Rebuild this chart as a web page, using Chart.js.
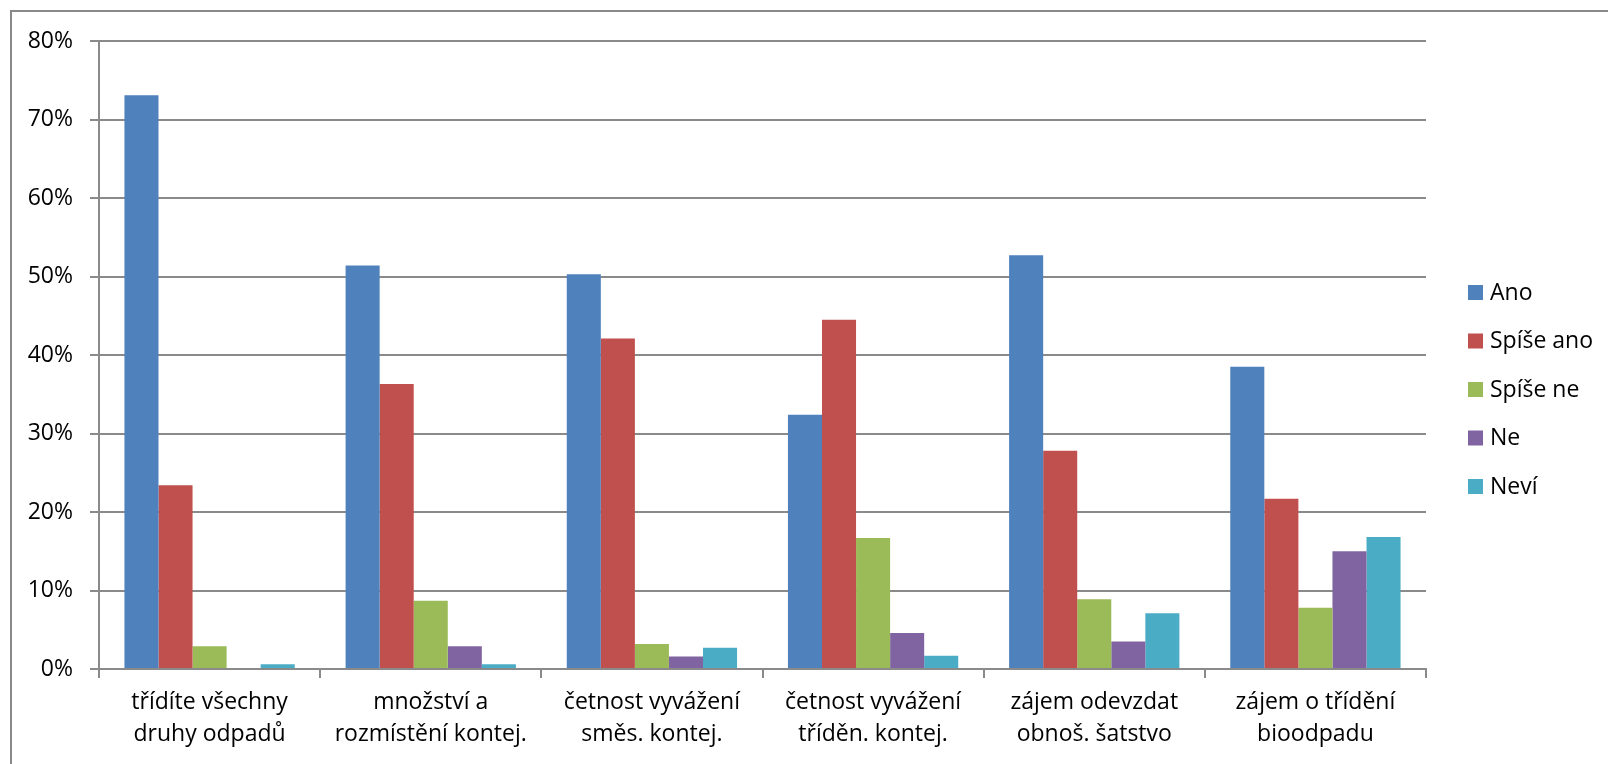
<!DOCTYPE html>
<html>
<head>
<meta charset="utf-8">
<script src="https://cdn.jsdelivr.net/npm/chart.js@4/dist/chart.umd.min.js"></script>
<style>
  html, body { margin: 0; padding: 0; background: #fff; overflow: hidden; }
  #wrap { position: relative; width: 1608px; height: 764px; }
  #frame { position: absolute; left: 10px; top: 10px; width: 1700px; height: 900px;
           border-left: 2px solid #898989; border-top: 2px solid #898989; }
  canvas { position: absolute; left: 0; top: 0; }
</style>
</head>
<body>
<div id="wrap">
  <div id="frame"></div>
  <canvas id="myChart" width="1608" height="764"></canvas>
</div>
<script>
const categories = [
    ["třídíte všechny", "druhy odpadů"],
    ["množství a", "rozmístění kontej."],
    ["četnost vyvážení", "směs. kontej."],
    ["četnost vyvážení", "tříděn. kontej."],
    ["zájem odevzdat", "obnoš. šatstvo"],
    ["zájem o třídění", "bioodpadu"]
];
const seriesNames = ["Ano", "Spíše ano", "Spíše ne", "Ne", "Neví"];
const ano      = [73.1, 51.4, 50.3, 32.4, 52.7, 38.5];
const spiseAno = [23.4, 36.3, 42.1, 44.5, 27.8, 21.7];
const spiseNe  = [2.9, 8.7, 3.2, 16.7, 8.9, 7.8];
const ne       = [0, 2.9, 1.6, 4.6, 3.5, 15.0];
const nevi     = [0.6, 0.6, 2.7, 1.7, 7.1, 16.8];
const yTicks   = [0, 10, 20, 30, 40, 50, 60, 70, 80];

const COLORS = ["#4F81BD", "#C0504D", "#9BBB59", "#8064A2", "#4BACC6"];
const FONT = "'Open Sans', 'DejaVu Sans', sans-serif";
const GRID = "#8a8a8a";

const seriesValues = [ano, spiseAno, spiseNe, ne, nevi];

// legend drawn by hand, on the right side like the original
const sideLegend = {
    id: "sideLegend",
    afterDraw(chart) {
        const ctx = chart.ctx;
        ctx.save();
        ctx.font = "23px " + FONT;
        ctx.textBaseline = "middle";
        chart.data.datasets.forEach(function (ds, i) {
            const y = 293 + i * 48.5;
            ctx.fillStyle = ds.backgroundColor;
            ctx.fillRect(1468, y - 8, 15, 15);
            ctx.fillStyle = "#000";
            ctx.fillText(ds.label, 1490, y);
        });
        ctx.restore();
    }
};

const ctx = document.getElementById("myChart").getContext("2d");
const myChart = new Chart(ctx, {
    type: "bar",
    data: {
        labels: categories,
        datasets: seriesNames.map(function (name, i) {
            return {
                label: name,
                data: seriesValues[i],
                backgroundColor: COLORS[i],
                borderWidth: 0,
                categoryPercentage: 0.77,
                barPercentage: 1.0
            };
        })
    },
    options: {
        responsive: false,
        animation: false,
        layout: { padding: { left: 0, top: 41, right: 182, bottom: 0 } },
        plugins: {
            legend: { display: false },
            tooltip: { enabled: false }
        },
        scales: {
            y: {
                min: 0,
                max: 80,
                afterFit: function (scale) { scale.width = 99; },
                afterBuildTicks: function (scale) {
                    scale.ticks = yTicks.map(function (v) { return { value: v }; });
                },
                ticks: {
                    callback: function (v) { return v + "%"; },
                    font: { family: FONT, size: 23 },
                    color: "#000",
                    padding: 17
                },
                grid: { color: GRID, lineWidth: 2, tickLength: 9 },
                border: { color: GRID, width: 2 }
            },
            x: {
                afterFit: function (scale) { scale.height = 95; },
                ticks: {
                    font: { family: FONT, size: 23, lineHeight: 1.4 },
                    color: "#000",
                    padding: 8,
                    maxRotation: 0,
                    autoSkip: false
                },
                grid: { offset: true, drawOnChartArea: false, color: GRID, lineWidth: 2, tickLength: 9 },
                border: { color: GRID, width: 2 }
            }
        }
    },
    plugins: [sideLegend]
});
</script>
</body>
</html>
